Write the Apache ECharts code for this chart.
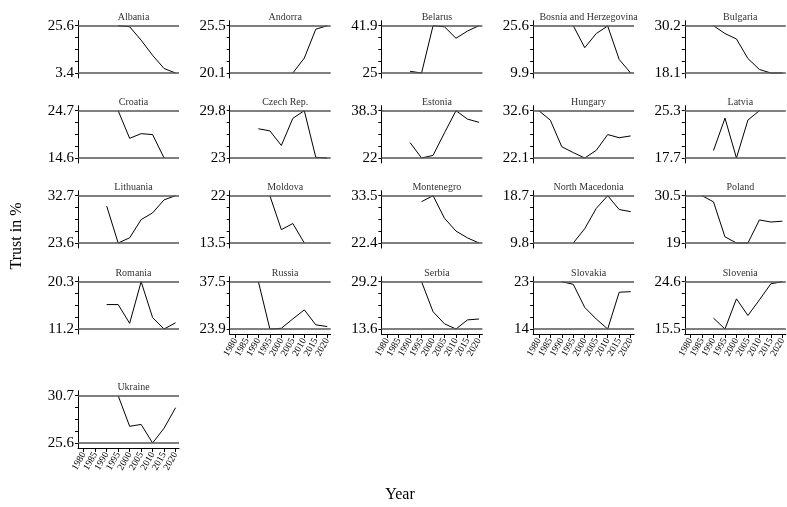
<!DOCTYPE html>
<html>
<head>
<meta charset="utf-8">
<script src="https://cdn.jsdelivr.net/npm/echarts@6/dist/echarts.min.js"></script>
<style>
html,body{margin:0;padding:0;background:#fff;}
#chart{width:787px;height:507px;}
</style>
</head>
<body>
<div id="chart"></div>
<script>
// ---- data ----
const years = [1980, 1985, 1990, 1995, 2000, 2005, 2010, 2015, 2020];
const countries = ['Albania','Andorra','Belarus','Bosnia and Herzegovina','Bulgaria',
  'Croatia','Czech Rep.','Estonia','Hungary','Latvia',
  'Lithuania','Moldova','Montenegro','North Macedonia','Poland',
  'Romania','Russia','Serbia','Slovakia','Slovenia','Ukraine'];

const albania     = [null,null,null,25.6,25.1,18.8,11.7,5.5,3.4];
const andorra     = [null,null,null,null,null,20.1,21.8,25.1,25.5];
const belarus     = [null,null,25.6,25,41.9,41.5,37.4,40.0,41.9];
const bosnia      = [null,null,null,25.6,18.3,23.0,25.5,14.4,9.9];
const bulgaria    = [null,null,30.2,28.2,26.8,21.8,19.0,18.1,18.1];
const croatia     = [null,null,null,24.7,18.8,19.8,19.6,14.6,null];
const czech       = [null,null,27.2,26.9,24.8,28.7,29.8,23.1,23.0];
const estonia     = [null,null,27.3,22,22.9,30.7,38.3,35.4,34.3];
const hungary     = [32.6,30.5,24.6,23.3,22.1,23.8,27.3,26.6,27.0];
const latvia      = [null,null,18.9,24.1,17.7,23.8,25.3,null,null];
const lithuania   = [null,null,30.7,23.6,24.6,28.1,29.4,31.9,32.7];
const moldova     = [null,null,null,22,15.9,17.0,13.5,null,null];
const montenegro  = [null,null,null,32.1,33.5,28.2,25.2,23.6,22.4];
const macedonia   = [null,null,null,9.8,12.5,16.3,18.7,16.1,15.7];
const poland      = [null,30.5,29.0,20.5,19,19,24.6,24.1,24.3];
const romania     = [null,null,15.9,15.9,12.3,20.3,13.4,11.2,12.4];
const russia      = [null,null,37.5,23.9,24.1,26.8,29.4,25.1,24.6];
const serbia      = [null,null,null,29.2,19.3,15.3,13.6,16.6,16.9];
const slovakia    = [null,null,23,22.5,18.1,15.9,14,21.0,21.1];
const slovenia    = [null,null,17.6,15.5,21.3,18.1,21.1,24.2,24.6];
const ukraine     = [null,null,null,30.7,27.4,27.6,25.6,27.2,29.4];

const values = [albania, andorra, belarus, bosnia, bulgaria,
  croatia, czech, estonia, hungary, latvia,
  lithuania, moldova, montenegro, macedonia, poland,
  romania, russia, serbia, slovakia, slovenia, ukraine];

// tick labels (min / max of each panel)
const yLow  = [3.4, 20.1, 25, 9.9, 18.1, 14.6, 23, 22, 22.1, 17.7, 23.6, 13.5, 22.4, 9.8, 19, 11.2, 23.9, 13.6, 14, 15.5, 25.6];
const yHigh = [25.6, 25.5, 41.9, 25.6, 30.2, 24.7, 29.8, 38.3, 32.6, 25.3, 32.7, 22, 33.5, 18.7, 30.5, 20.3, 37.5, 29.2, 23, 24.6, 30.7];

// ---- layout ----
const FONT = "'Liberation Serif','Times New Roman',serif";
const rowTops = [25.7, 110.7, 195.7, 281.7, 395.7];
const colLeft0 = 78, colStep = 151.7, plotW = 101, lineH = 47.3, padPx = 5;
const bottomPanels = [16, 17, 18, 19, 20]; // panels that carry the year axis

const grids = [], xAxes = [], yAxes = [], series = [], titles = [];

countries.forEach((name, i) => {
  const col = i % 5, row = Math.floor(i / 5);
  const left = colLeft0 + col * colStep;
  const T = rowTops[row];
  const lo = yLow[i], hi = yHigh[i];
  const pad = (hi - lo) * padPx / lineH;
  const isBottom = bottomPanels.indexOf(i) >= 0;

  grids.push({left: left, top: T - padPx, width: plotW, height: lineH + 2 * padPx,
    containLabel: false, outerBoundsMode: 'none'});

  titles.push({text: name, left: left + plotW / 2, top: T - 18.5, textAlign: 'center',
    textStyle: {fontFamily: FONT, fontSize: 10, fontWeight: 'normal', color: '#333'}});

  xAxes.push({
    gridIndex: i, type: 'value', min: 1977.5, max: 2021.5,
    show: isBottom,
    splitLine: {show: false},
    axisLine: {show: isBottom, onZero: false, lineStyle: {color: '#000', width: 1}},
    axisTick: {show: isBottom, customValues: years, length: 4, lineStyle: {color: '#000'}},
    axisLabel: {show: isBottom, customValues: years, rotate: 60, margin: 5,
      fontFamily: FONT, fontSize: 9.5, color: '#000', formatter: v => String(v)}
  });

  const q = (hi - lo) / 4;
  yAxes.push({
    gridIndex: i, type: 'value', min: lo - pad, max: hi + pad,
    splitLine: {show: false},
    axisLine: {show: true, lineStyle: {color: '#000', width: 1}},
    axisTick: {show: true, customValues: [lo, lo + q, lo + 2 * q, lo + 3 * q, hi], length: 3,
      lineStyle: {color: '#000'}},
    axisLabel: {show: true, customValues: [lo, hi], margin: 4, fontFamily: FONT, fontSize: 15,
      color: '#000', formatter: v => String(v)}
  });

  const vals = values[i];
  series.push({
    type: 'line', xAxisIndex: i, yAxisIndex: i,
    data: years.map((y, k) => [y, vals[k]]).filter(p => p[1] !== null),
    symbol: 'none', silent: true,
    lineStyle: {color: '#000', width: 1},
    markLine: {
      silent: true, symbol: 'none', label: {show: false}, animation: false,
      lineStyle: {color: '#555', width: 1.5, type: 'solid'},
      data: [{yAxis: lo}, {yAxis: hi}]
    }
  });
});

const chart = echarts.init(document.getElementById('chart'), null, {renderer: 'canvas'});
chart.setOption({
  animation: false,
  backgroundColor: '#fff',
  title: titles,
  grid: grids,
  xAxis: xAxes,
  yAxis: yAxes,
  series: series,
  graphic: [
    {type: 'text', x: 17, y: 236, rotation: Math.PI / 2,
      style: {text: 'Trust in %', font: '16px ' + FONT, fill: '#000', align: 'center', verticalAlign: 'middle'}},
    {type: 'text', x: 400, y: 495,
      style: {text: 'Year', font: '16px ' + FONT, fill: '#000', align: 'center', verticalAlign: 'middle'}}
  ]
});
</script>
</body>
</html>
